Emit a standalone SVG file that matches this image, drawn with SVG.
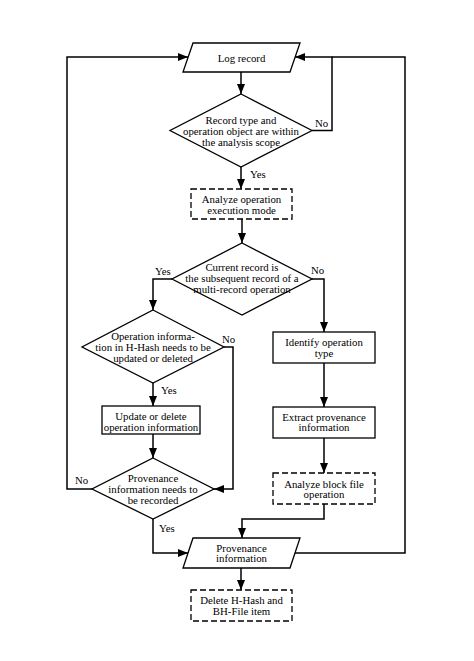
<svg xmlns="http://www.w3.org/2000/svg" width="474" height="661" viewBox="0 0 474 661">
<defs>
<marker id="ah" markerUnits="userSpaceOnUse" markerWidth="10" markerHeight="8" refX="10" refY="4" orient="auto">
<path d="M0,0 L10,4 L0,8 z" fill="#000"/>
</marker>
</defs>
<style>
.s{fill:#fff;stroke:#000;stroke-width:1.3}
.d{fill:#fff;stroke:#000;stroke-width:1.3;stroke-dasharray:6,3}
.c{fill:none;stroke:#000;stroke-width:1.5;marker-end:url(#ah)}
.n{fill:none;stroke:#000;stroke-width:1.5}
text{font-family:"Liberation Serif","DejaVu Serif",serif;font-size:10.8px;fill:#000;text-anchor:middle}
.l{text-anchor:start}
</style>
<rect width="474" height="661" fill="#fff"/>
<g id="connectors">
<path class="c" d="M241,72 V94"/>
<path class="c" d="M312,130.5 H332 V57 H295"/>
<path class="n" d="M295,553 H405 V57 H332"/>
<path class="c" d="M241,167 V189"/>
<path class="c" d="M242,219 V243"/>
<path class="c" d="M172,279 H153 V310"/>
<path class="c" d="M312,279 H324 V332"/>
<path class="c" d="M153,383 V406"/>
<path class="c" d="M224,347 H233 V489 H214"/>
<path class="c" d="M153,434 V458"/>
<path class="c" d="M92,489 H67 V57 H188"/>
<path class="c" d="M153,519 V553 H188"/>
<path class="c" d="M324,363 V407"/>
<path class="c" d="M324,438 V473"/>
<path class="c" d="M324,504 V519 H242 V538"/>
<path class="c" d="M241,568 V590"/>
</g>
<g id="labels">
<text class="l" x="315" y="127">No</text>
<text class="l" x="250" y="178">Yes</text>
<text class="l" x="155" y="275">Yes</text>
<text class="l" x="311" y="274">No</text>
<text class="l" x="222" y="343">No</text>
<text class="l" x="161" y="394">Yes</text>
<text class="l" x="75" y="484">No</text>
<text class="l" x="159" y="532">Yes</text>
</g>
<g id="log-record">
<polygon class="s" points="193,43 300,43 290,72 183,72"/>
<text x="241.5" y="61.5">Log record</text>
</g>
<g id="scope-check">
<polygon class="s" points="241,94 312,130.5 241,167 170,130.5"/>
<text x="241" y="123.5">Record type and</text>
<text x="241" y="134.5">operation object are within</text>
<text x="241" y="145.5">the analysis scope</text>
</g>
<g id="analyze-mode">
<rect class="d" x="191" y="189" width="101" height="30"/>
<text x="241.5" y="202.5">Analyze operation</text>
<text x="241.5" y="214">execution mode</text>
</g>
<g id="multi-record-check">
<polygon class="s" points="242,243 312,279 242,315 172,279"/>
<text x="242" y="270.5">Current record is</text>
<text x="242" y="281.5">the subsequent record of a</text>
<text x="242" y="292.5">multi-record operation</text>
</g>
<g id="hhash-check">
<polygon class="s" points="153,310 224,347 153,383 82,347"/>
<text x="153" y="339.5">Operation informa-</text>
<text x="153" y="350.5">tion in H-Hash needs to be</text>
<text x="153" y="362">updated or deleted</text>
</g>
<g id="update-delete">
<rect class="s" x="102" y="406" width="98" height="28"/>
<text x="151" y="419.5">Update or delete</text>
<text x="151" y="430.5">operation information</text>
</g>
<g id="provenance-check">
<polygon class="s" points="153,458 214,489 153,519 92,489"/>
<text x="153" y="481.5">Provenance</text>
<text x="153" y="492.5">information needs to</text>
<text x="153" y="503.5">be recorded</text>
</g>
<g id="identify-type">
<rect class="s" x="273" y="332" width="102" height="31"/>
<text x="324" y="345.5">Identify operation</text>
<text x="324" y="356.5">type</text>
</g>
<g id="extract-provenance">
<rect class="s" x="273" y="407" width="102" height="31"/>
<text x="324" y="420.5">Extract provenance</text>
<text x="324" y="431">information</text>
</g>
<g id="analyze-block">
<rect class="d" x="273" y="473" width="102" height="31"/>
<text x="324" y="487.5">Analyze block file</text>
<text x="324" y="498">operation</text>
</g>
<g id="provenance-info">
<polygon class="s" points="193,538 300,538 290,568 183,568"/>
<text x="241.5" y="551.5">Provenance</text>
<text x="241.5" y="562">information</text>
</g>
<g id="delete-item">
<rect class="d" x="191" y="590" width="101" height="31"/>
<text x="241.5" y="604">Delete H-Hash and</text>
<text x="241.5" y="615">BH-File item</text>
</g>
</svg>
